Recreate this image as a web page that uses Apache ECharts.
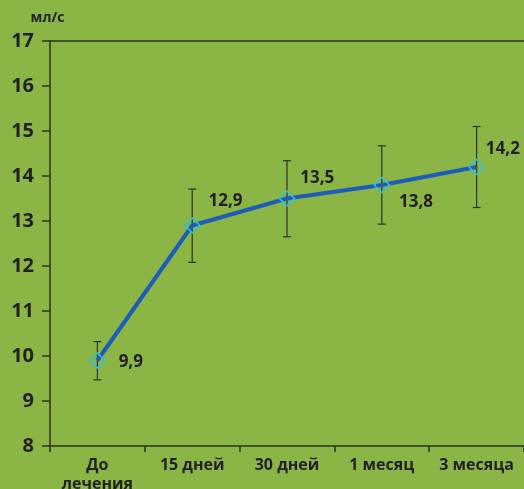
<!DOCTYPE html>
<html>
<head>
<meta charset="utf-8">
<script src="https://cdn.jsdelivr.net/npm/echarts@6/dist/echarts.min.js"></script>
<style>
  html, body { margin: 0; padding: 0; background: #8bb545; }
  #chart { width: 524px; height: 489px; }
</style>
</head>
<body>
<div id="chart"></div>
<script>
// Blood flow velocity (ml/s) over the course of treatment
const categories = ['До\nлечения', '15 дней', '30 дней', '1 месяц', '3 месяца'];
const speed = [9.9, 12.9, 13.5, 13.8, 14.2];
const errLow = [9.47, 12.08, 12.65, 12.93, 13.30];
const errHigh = [10.32, 13.71, 14.34, 14.67, 15.10];
const yTicks = { min: 8, max: 17, step: 1 };

const FONT = '"Open Sans", "Noto Sans", sans-serif';
const INK = '#231f20';
const AXIS = '#2d321f';

// where each value label sits relative to its marker
const labelPlacement = [
  { position: 'right', offset: [8, 2] },
  { position: 'right', offset: [3, -24] },
  { position: 'right', offset: [0, -20] },
  { position: 'right', offset: [4, 17] },
  { position: 'right', offset: [-4, -18] }
];

const lineData = speed.map((v, i) => ({
  value: v,
  label: labelPlacement[i]
}));

const errData = speed.map((v, i) => [i, errLow[i], errHigh[i]]);

const chart = echarts.init(document.getElementById('chart'), null, { renderer: 'canvas' });

chart.setOption({
  backgroundColor: '#8bb545',
  animation: false,
  textStyle: { fontFamily: FONT },
  grid: {
    left: 50, right: 0, top: 41, bottom: 43,
    containLabel: false, outerBoundsMode: 'none'
  },
  xAxis: [
    {
      type: 'category',
      data: categories,
      boundaryGap: true,
      axisLine: { lineStyle: { color: AXIS, width: 1.5 } },
      axisTick: { show: true, length: 6, lineStyle: { color: AXIS, width: 1.5 } },
      axisLabel: {
        color: INK, fontFamily: FONT, fontSize: 16, fontWeight: 'bold',
        margin: 10, lineHeight: 19, interval: 0
      },
      splitLine: { show: false }
    },
    {
      type: 'category',
      data: categories,
      position: 'top',
      axisLine: { show: true, lineStyle: { color: AXIS, width: 1.5 } },
      axisTick: { show: false },
      axisLabel: { show: false },
      splitLine: { show: false }
    }
  ],
  yAxis: {
    type: 'value',
    min: yTicks.min,
    max: yTicks.max,
    interval: yTicks.step,
    name: 'мл/с',
    nameLocation: 'end',
    nameGap: 16,
    nameTextStyle: {
      color: INK, fontFamily: FONT, fontSize: 14, fontWeight: 'bold',
      align: 'center', padding: [0, 5, 0, 0]
    },
    axisLine: { show: true, lineStyle: { color: AXIS, width: 1.5 } },
    axisTick: { show: true, length: 8, lineStyle: { color: AXIS, width: 1.5 } },
    axisLabel: {
      color: INK, fontFamily: FONT, fontSize: 20, fontWeight: 'bold', margin: 16
    },
    splitLine: { show: false }
  },
  series: [
    {
      type: 'custom',
      name: 'err',
      data: errData,
      encode: { x: 0, y: [1, 2] },
      z: 2,
      renderItem: function (params, api) {
        const x = api.value(0);
        const lo = api.coord([x, api.value(1)]);
        const hi = api.coord([x, api.value(2)]);
        const cap = 4;
        const style = { stroke: AXIS, lineWidth: 1.2 };
        return {
          type: 'group',
          children: [
            { type: 'line', shape: { x1: lo[0], y1: lo[1], x2: hi[0], y2: hi[1] }, style: style },
            { type: 'line', shape: { x1: lo[0] - cap, y1: lo[1], x2: lo[0] + cap, y2: lo[1] }, style: style },
            { type: 'line', shape: { x1: hi[0] - cap, y1: hi[1], x2: hi[0] + cap, y2: hi[1] }, style: style }
          ]
        };
      }
    },
    {
      type: 'line',
      name: 'speed',
      data: lineData,
      z: 3,
      symbol: 'diamond',
      symbolSize: 15,
      lineStyle: { color: '#1d5cbb', width: 4 },
      itemStyle: { color: 'rgba(0,0,0,0)', borderColor: '#2ec0ee', borderWidth: 1.5 },
      label: {
        show: true,
        color: INK,
        fontFamily: FONT,
        fontSize: 17,
        fontWeight: 'bold',
        formatter: function (p) { return String(p.value).replace('.', ','); }
      }
    }
  ]
});
</script>
</body>
</html>
